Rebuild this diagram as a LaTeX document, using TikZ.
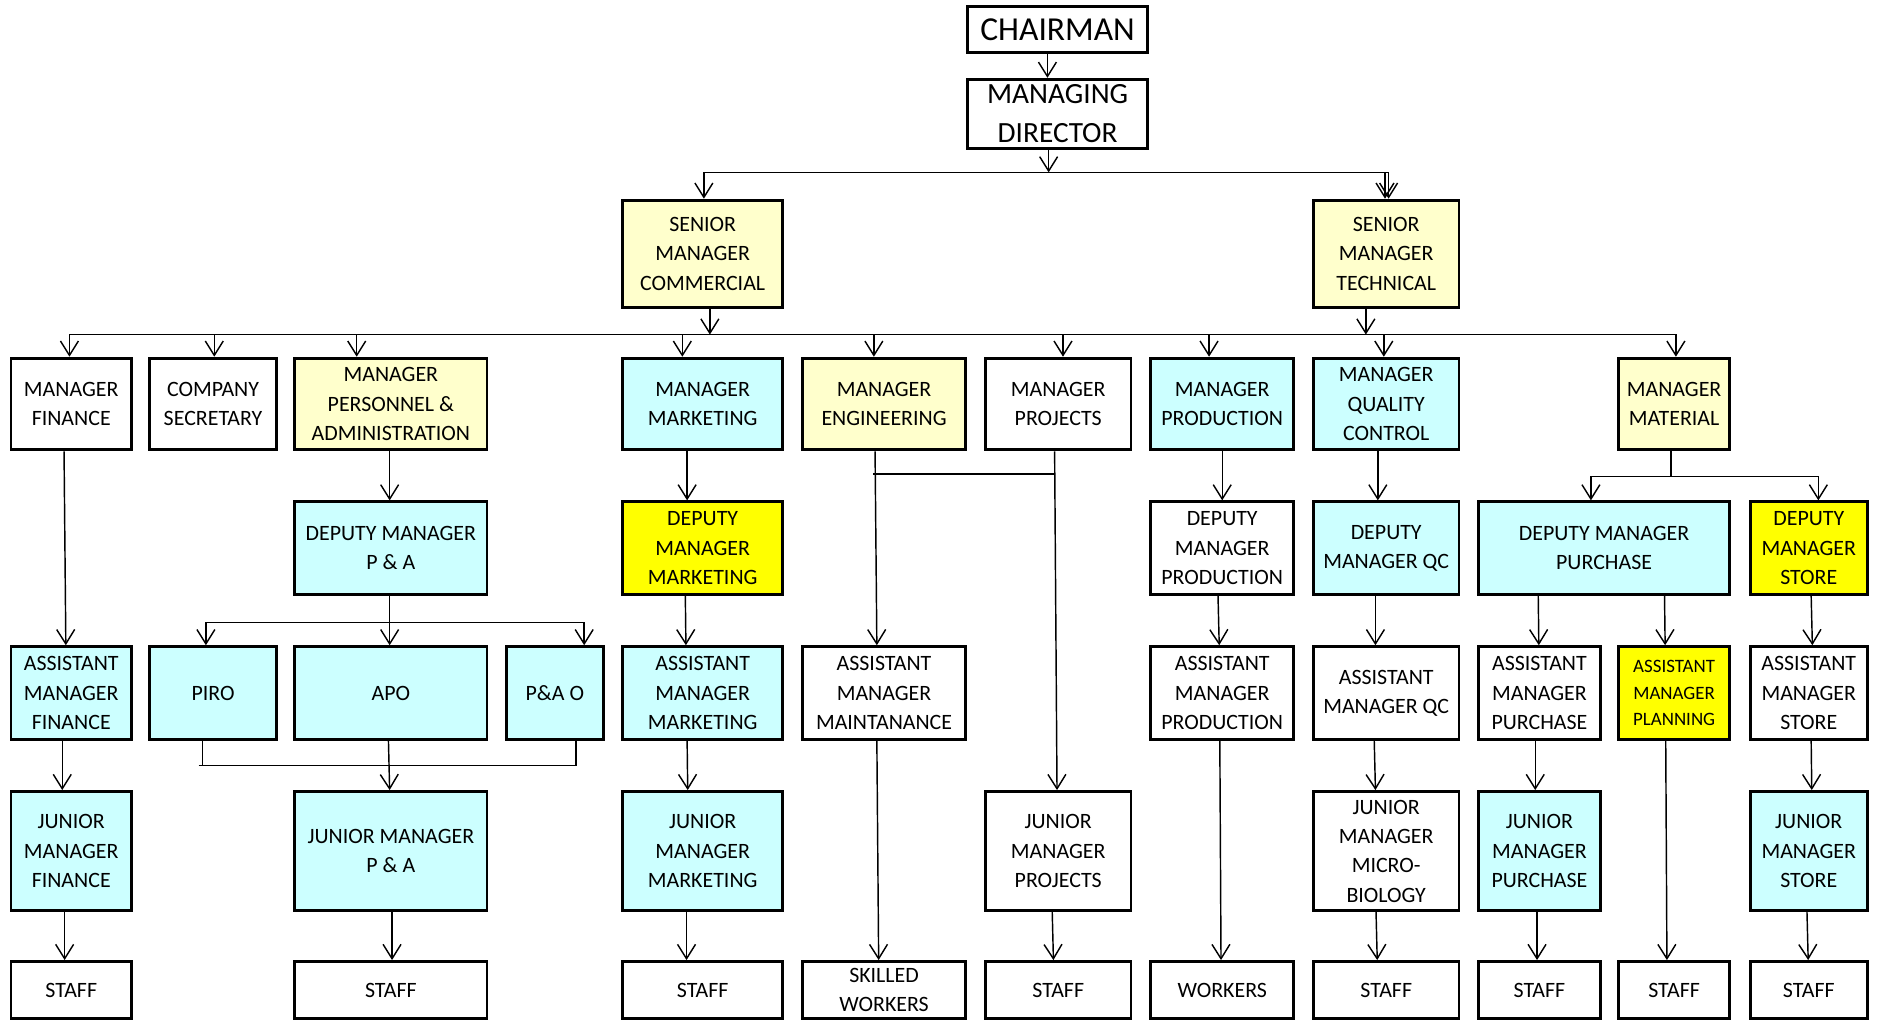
\documentclass[tikz,border=0pt]{standalone}
\usepackage{fontspec}
\setmainfont{Carlito}
\usetikzlibrary{arrows.meta}
\definecolor{lcyan}{HTML}{CCFFFF}
\definecolor{lyel}{HTML}{FFFFCC}
\definecolor{byel}{HTML}{FFFF00}
\begin{document}
\begin{tikzpicture}[x=1pt,y=-1pt,
  box/.style={draw, line width=2.4pt, align=center, inner sep=0pt, font=\fontsize{18.3}{24.5}\selectfont},
  cy/.style={fill=lcyan}, ly/.style={fill=lyel}, by/.style={fill=byel}, wh/.style={fill=white},
  bigA/.style={font=\fontsize{28}{32}\selectfont},
  bigB/.style={font=\fontsize{24.5}{32}\selectfont},
  small/.style={font=\fontsize{15.8}{22}\selectfont},
  cA/.style={minimum width=100.6pt}, cB/.style={minimum width=105.6pt},
  cC/.style={minimum width=160.6pt}, cD/.style={minimum width=80.6pt},
  cE/.style={minimum width=133.6pt}, cF/.style={minimum width=136.6pt},
  cG/.style={minimum width=121.6pt}, cH/.style={minimum width=119.6pt},
  cI/.style={minimum width=121.6pt}, cJ/.style={minimum width=209.6pt},
  cK/.style={minimum width=101.6pt}, cL/.style={minimum width=92.6pt},
  cM/.style={minimum width=97.6pt}, cCh/.style={minimum width=150.6pt},
  rCh/.style={minimum height=38.6pt}, rMD/.style={minimum height=57.6pt},
  rowa/.style={minimum height=89.6pt}, rowb/.style={minimum height=76.6pt},
  rowc/.style={minimum height=77.6pt}, rowd/.style={minimum height=77.6pt},
  rowe/.style={minimum height=99.6pt}, rowf/.style={minimum height=47.6pt},
  arr/.style={line width=1.2pt, -{Straight Barb[length=12pt,width=15pt,line width=1.2pt]}},
  ln/.style={line width=1.2pt}]
\useasboundingbox (0,0) rectangle (1568,853);
% top
\node[box,wh,cCh,rCh,bigA] (ch) at (883.5,24.5) {CHAIRMAN};
\node[box,wh,cCh,rMD,bigB] (md) at (883.5,95) {MANAGING\\DIRECTOR};
\node[box,ly,cE,rowa] (smc) at (587,212) {SENIOR\\MANAGER\\COMMERCIAL};
\node[box,ly,cI,rowa] (smt) at (1158,212) {SENIOR\\MANAGER\\TECHNICAL};
% level 2
\node[box,wh,cA,rowb] (mf) at (59.5,337.5) {MANAGER\\FINANCE};
\node[box,wh,cB,rowb] (cs) at (178,337.5) {COMPANY\\SECRETARY};
\node[box,ly,cC,rowb] (mpa) at (326.5,337.5) {MANAGER\\PERSONNEL \&\\ADMINISTRATION};
\node[box,cy,cE,rowb] (mm) at (587,337.5) {MANAGER\\MARKETING};
\node[box,ly,cF,rowb] (me) at (738.5,337.5) {MANAGER\\ENGINEERING};
\node[box,wh,cG,rowb] (mp) at (884,337.5) {MANAGER\\PROJECTS};
\node[box,cy,cH,rowb] (mprod) at (1021,337.5) {MANAGER\\PRODUCTION};
\node[box,cy,cI,rowb] (mqc) at (1158,337.5) {MANAGER\\QUALITY\\CONTROL};
\node[box,ly,cL,rowb] (mmat) at (1398.5,337.5) {MANAGER\\MATERIAL};
% level 3
\node[box,cy,cC,rowc] (dmpa) at (326.5,458) {DEPUTY MANAGER\\P \& A};
\node[box,by,cE,rowc] (dmm) at (587,458) {DEPUTY\\MANAGER\\MARKETING};
\node[box,wh,cH,rowc] (dmprod) at (1021,458) {DEPUTY\\MANAGER\\PRODUCTION};
\node[box,cy,cI,rowc] (dmqc) at (1158,458) {DEPUTY\\MANAGER QC};
\node[box,cy,cJ,rowc] (dmpur) at (1340,458) {DEPUTY MANAGER\\PURCHASE};
\node[box,by,cM,rowc] (dmst) at (1511,458) {DEPUTY\\MANAGER\\STORE};
% level 4
\node[box,cy,cA,rowd] (amf) at (59.5,579) {ASSISTANT\\MANAGER\\FINANCE};
\node[box,cy,cB,rowd] (piro) at (178,579) {PIRO};
\node[box,cy,cC,rowd] (apo) at (326.5,579) {APO};
\node[box,cy,cD,rowd] (pao) at (463.5,579) {P\&A O};
\node[box,cy,cE,rowd] (amm) at (587,579) {ASSISTANT\\MANAGER\\MARKETING};
\node[box,wh,cF,rowd] (ammt) at (738.5,579) {ASSISTANT\\MANAGER\\MAINTANANCE};
\node[box,wh,cH,rowd] (amprod) at (1021,579) {ASSISTANT\\MANAGER\\PRODUCTION};
\node[box,wh,cI,rowd] (amqc) at (1158,579) {ASSISTANT\\MANAGER QC};
\node[box,wh,cK,rowd] (ampur) at (1286,579) {ASSISTANT\\MANAGER\\PURCHASE};
\node[box,by,cL,rowd,small] (ampl) at (1398.5,579) {ASSISTANT\\MANAGER\\PLANNING};
\node[box,wh,cM,rowd] (amst) at (1511,579) {ASSISTANT\\MANAGER\\STORE};
% level 5
\node[box,cy,cA,rowe] (jmf) at (59.5,711) {JUNIOR\\MANAGER\\FINANCE};
\node[box,cy,cC,rowe] (jmpa) at (326.5,711) {JUNIOR MANAGER\\P \& A};
\node[box,cy,cE,rowe] (jmm) at (587,711) {JUNIOR\\MANAGER\\MARKETING};
\node[box,wh,cG,rowe] (jmp) at (884,711) {JUNIOR\\MANAGER\\PROJECTS};
\node[box,wh,cI,rowe] (jmmb) at (1158,711) {JUNIOR\\MANAGER\\MICRO-\\BIOLOGY};
\node[box,cy,cK,rowe] (jmpur) at (1286,711) {JUNIOR\\MANAGER\\PURCHASE};
\node[box,cy,cM,rowe] (jmst) at (1511,711) {JUNIOR\\MANAGER\\STORE};
% level 6
\node[box,wh,cA,rowf] (s1) at (59.5,827) {STAFF};
\node[box,wh,cC,rowf] (s2) at (326.5,827) {STAFF};
\node[box,wh,cE,rowf] (s3) at (587,827) {STAFF};
\node[box,wh,cF,rowf] (sw) at (738.5,827) {SKILLED\\WORKERS};
\node[box,wh,cG,rowf] (s5) at (884,827) {STAFF};
\node[box,wh,cH,rowf] (wk) at (1021,827) {WORKERS};
\node[box,wh,cI,rowf] (s7) at (1158,827) {STAFF};
\node[box,wh,cK,rowf] (s8) at (1286,827) {STAFF};
\node[box,wh,cL,rowf] (s9) at (1398.5,827) {STAFF};
\node[box,wh,cM,rowf] (s10) at (1511,827) {STAFF};
% junction coordinates
\coordinate (t0) at (876,144);
\coordinate (t0l) at (588,144);
\coordinate (t0r) at (1160,144);
\coordinate (t1l) at (58,279.5);
\coordinate (t1r) at (1401,279.5);
\coordinate (t1a) at (593,279.5);
\coordinate (t1b) at (1141,279.5);
\coordinate (t2l) at (172,520);
\coordinate (t2r) at (488,520);
\coordinate (t3l) at (166,639.5);
\coordinate (t3r) at (481,639.5);
\coordinate (b1) at (729.5,396);
\coordinate (b2) at (881,396);
\coordinate (t4) at (1396,398);
\coordinate (t4l) at (1329,398);
\coordinate (t4r) at (1519,398);
% top connectors
\draw[arr] ([xshift=-8.5pt]ch.south) -- ([xshift=-8.5pt]md.north);
\draw[arr] ([xshift=-7.5pt]md.south) -- (t0);
\draw[ln] (t0l) -- (t0r);
\draw[arr] (t0l) -- (smc.north -| t0l);
\draw[arr] ([xshift=-3pt]t0r) -- ([xshift=-3pt]smt.north -| t0r);
\draw[arr] (t0r) -- (smt.north -| t0r);
\draw[ln] (t1l) -- (t1r);
\draw[arr] ([xshift=6pt]smc.south) -- (t1a);
\draw[arr] ([xshift=-17pt]smt.south) -- (t1b);
\draw[arr] ([xshift=-1.5pt]mf.north |- t1l) -- ([xshift=-1.5pt]mf.north);
\draw[arr] ([xshift=1pt]cs.north |- t1l) -- ([xshift=1pt]cs.north);
\draw[arr] ([xshift=-28.5pt]mpa.north |- t1l) -- ([xshift=-28.5pt]mpa.north);
\draw[arr] ([xshift=-17pt]mm.north |- t1l) -- ([xshift=-17pt]mm.north);
\draw[arr] ([xshift=-8.5pt]me.north |- t1l) -- ([xshift=-8.5pt]me.north);
\draw[arr] ([xshift=4pt]mp.north |- t1l) -- ([xshift=4pt]mp.north);
\draw[arr] ([xshift=-11pt]mprod.north |- t1l) -- ([xshift=-11pt]mprod.north);
\draw[arr] ([xshift=-2pt]mqc.north |- t1l) -- ([xshift=-2pt]mqc.north);
\draw[arr] ([xshift=1.5pt]mmat.north |- t1l) -- ([xshift=1.5pt]mmat.north);
% finance
\draw[arr] ([xshift=-6pt]mf.south) -- ([xshift=-4.5pt]amf.north);
\draw[arr] ([xshift=-7.5pt]amf.south) -- ([xshift=-7.5pt]jmf.north);
\draw[arr] ([xshift=-5.5pt]jmf.south) -- ([xshift=-5.5pt]s1.north);
% personnel
\draw[arr] ([xshift=-1pt]mpa.south) -- ([xshift=-1pt]dmpa.north);
\draw[ln] (t2l) -- (t2r);
\draw[arr] ([xshift=-1pt]dmpa.south) -- ([xshift=-1pt]apo.north);
\draw[arr] (t2l) -- (piro.north -| t2l);
\draw[arr] (t2r) -- (pao.north -| t2r);
\draw[ln] (t3l) -- (t3r);
\draw[ln] ([xshift=-9pt]piro.south) -- ([xshift=-9pt]piro.south |- t3l);
\draw[ln] ([xshift=17.5pt]pao.south) -- ([xshift=17.5pt]pao.south |- t3r);
\draw[arr] ([xshift=-2pt]apo.south) -- ([xshift=-1pt]jmpa.north);
\draw[arr] ([xshift=1pt]jmpa.south) -- ([xshift=1pt]s2.north);
% marketing
\draw[arr] ([xshift=-13pt]mm.south) -- ([xshift=-13pt]dmm.north);
\draw[arr] ([xshift=-14.5pt]dmm.south) -- ([xshift=-14pt]amm.north);
\draw[arr] ([xshift=-13pt]amm.south) -- ([xshift=-12.5pt]jmm.north);
\draw[arr] ([xshift=-13.5pt]jmm.south) -- ([xshift=-13.5pt]s3.north);
% engineering and projects
\draw[arr] ([xshift=-7.5pt]me.south) -- ([xshift=-6pt]ammt.north);
\draw[arr] ([xshift=-6pt]ammt.south) -- ([xshift=-4.5pt]sw.north);
\draw[arr] ([xshift=-3pt]mp.south) -- ([xshift=-1pt]jmp.north);
\draw[ln] (b1) -- (b2);
\draw[arr] ([xshift=-5pt]jmp.south) -- ([xshift=-4pt]s5.north);
% production
\draw[arr] (mprod.south) -- (dmprod.north);
\draw[arr] ([xshift=-3.5pt]dmprod.south) -- ([xshift=-2.5pt]amprod.north);
\draw[arr] ([xshift=-2pt]amprod.south) -- ([xshift=-1pt]wk.north);
% quality control
\draw[arr] ([xshift=-7pt]mqc.south) -- ([xshift=-7pt]dmqc.north);
\draw[arr] ([xshift=-9pt]dmqc.south) -- ([xshift=-9pt]amqc.north);
\draw[arr] ([xshift=-10pt]amqc.south) -- ([xshift=-9pt]jmmb.north);
\draw[arr] ([xshift=-8.5pt]jmmb.south) -- ([xshift=-7.5pt]s7.north);
% material
\draw[ln] ([xshift=-2.5pt]mmat.south) -- (t4);
\draw[ln] (t4l) -- (t4r);
\draw[arr] (t4l) -- (dmpur.north -| t4l);
\draw[arr] (t4r) -- (dmst.north -| t4r);
\draw[arr] ([xshift=-55pt]dmpur.south) -- ([xshift=-0.5pt]ampur.north);
\draw[arr] ([xshift=50.5pt]dmpur.south) -- ([xshift=-7.5pt]ampl.north);
\draw[arr] ([xshift=-3.5pt]ampur.south) -- ([xshift=-3.5pt]jmpur.north);
\draw[arr] ([xshift=-2pt]jmpur.south) -- ([xshift=-2pt]s8.north);
\draw[arr] ([xshift=-7pt]ampl.south) -- ([xshift=-6pt]s9.north);
\draw[arr] ([xshift=2pt]dmst.south) -- ([xshift=3pt]amst.north);
\draw[arr] ([xshift=2pt]amst.south) -- ([xshift=2.5pt]jmst.north);
\draw[arr] ([xshift=-1.5pt]jmst.south) -- ([xshift=-0.5pt]s10.north);
\end{tikzpicture}
\end{document}
